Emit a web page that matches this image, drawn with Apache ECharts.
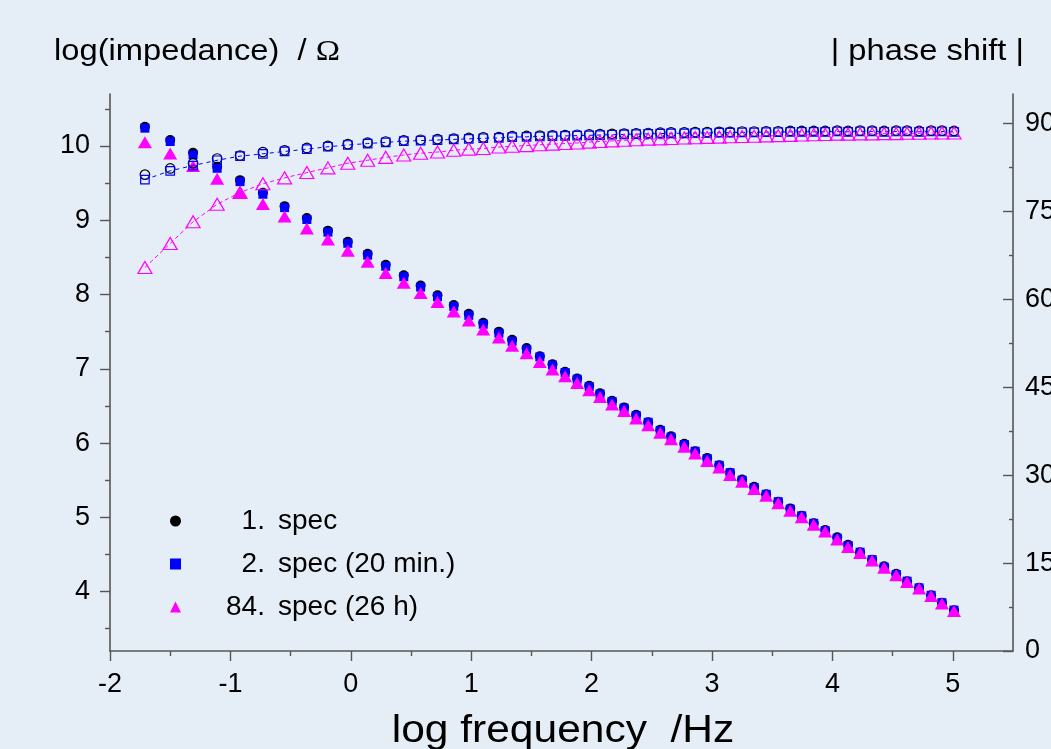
<!DOCTYPE html>
<html>
<head>
<meta charset="utf-8">
<title>Impedance spectra</title>
<script src="https://cdn.jsdelivr.net/npm/echarts@6/dist/echarts.min.js"></script>
<style>
  html, body { margin: 0; padding: 0; background: #e5edf6; }
  #chart { width: 1051px; height: 749px; }
</style>
</head>
<body>
<div id="chart"></div>
<script>
// log10 of the measurement frequency (Hz)
const logFreq = [-1.71, -1.50, -1.31, -1.11, -0.92, -0.73, -0.55, -0.365, -0.19, -0.025,
  0.14, 0.29, 0.44, 0.58, 0.72, 0.855, 0.98, 1.10, 1.23, 1.34,
  1.46, 1.57, 1.675, 1.78, 1.88, 1.98, 2.07, 2.17, 2.27, 2.37,
  2.47, 2.57, 2.66, 2.77, 2.86, 2.96, 3.06, 3.15, 3.25, 3.35,
  3.45, 3.55, 3.65, 3.745, 3.845, 3.94, 4.04, 4.13, 4.23, 4.33,
  4.43, 4.53, 4.62, 4.72, 4.82, 4.91, 5.01];

// log |Z| / Ohm
const impSpec1 = [10.26, 10.08, 9.91, 9.72, 9.54, 9.37, 9.19, 9.03, 8.86, 8.71,
  8.55, 8.40, 8.26, 8.12, 7.99, 7.86, 7.74, 7.62, 7.50, 7.39,
  7.28, 7.17, 7.06, 6.96, 6.87, 6.77, 6.67, 6.57, 6.48, 6.38,
  6.28, 6.18, 6.09, 5.99, 5.89, 5.80, 5.70, 5.60, 5.51, 5.41,
  5.31, 5.21, 5.12, 5.02, 4.92, 4.83, 4.73, 4.63, 4.53, 4.43,
  4.34, 4.24, 4.14, 4.05, 3.95, 3.85, 3.75];
const impSpec2 = [10.24, 10.06, 9.88, 9.70, 9.52, 9.35, 9.17, 9.01, 8.84, 8.69,
  8.53, 8.38, 8.24, 8.10, 7.97, 7.84, 7.72, 7.60, 7.48, 7.37,
  7.26, 7.16, 7.05, 6.95, 6.86, 6.76, 6.66, 6.56, 6.47, 6.37,
  6.28, 6.17, 6.08, 5.98, 5.89, 5.79, 5.70, 5.60, 5.50, 5.40,
  5.31, 5.21, 5.11, 5.02, 4.92, 4.82, 4.72, 4.62, 4.53, 4.43,
  4.33, 4.23, 4.14, 4.05, 3.95, 3.85, 3.75];
const impSpec84 = [10.05, 9.90, 9.73, 9.56, 9.38, 9.22, 9.05, 8.89, 8.74, 8.59,
  8.44, 8.29, 8.16, 8.02, 7.90, 7.77, 7.65, 7.53, 7.42, 7.31,
  7.21, 7.09, 6.99, 6.90, 6.81, 6.71, 6.62, 6.52, 6.43, 6.33,
  6.24, 6.14, 6.05, 5.95, 5.86, 5.76, 5.67, 5.57, 5.48, 5.38,
  5.29, 5.19, 5.09, 5.00, 4.90, 4.81, 4.70, 4.60, 4.52, 4.42,
  4.32, 4.22, 4.13, 4.04, 3.94, 3.84, 3.74];

// |phase shift| in degrees
const phaseSpec1 = [81.25, 82.3, 83.2, 84.0, 84.5, 85.1, 85.4, 85.8, 86.15, 86.45,
  86.7, 86.9, 87.1, 87.2, 87.3, 87.4, 87.5, 87.6, 87.65, 87.8,
  87.85, 87.9, 87.95, 88.0, 88.05, 88.1, 88.15, 88.2, 88.25, 88.3,
  88.35, 88.4, 88.45, 88.45, 88.5, 88.5, 88.55, 88.55, 88.6, 88.6,
  88.65, 88.65, 88.7, 88.7, 88.7, 88.7, 88.75, 88.7, 88.75, 88.75,
  88.7, 88.75, 88.75, 88.7, 88.75, 88.75, 88.7];
const phaseSpec2 = [80.4, 81.9, 82.8, 83.7, 84.4, 84.8, 85.2, 85.6, 86.0, 86.3,
  86.55, 86.75, 86.95, 87.05, 87.15, 87.25, 87.35, 87.45, 87.5, 87.65,
  87.7, 87.75, 87.8, 87.85, 87.9, 87.95, 88.0, 88.05, 88.1, 88.15,
  88.2, 88.25, 88.3, 88.3, 88.35, 88.35, 88.4, 88.4, 88.45, 88.45,
  88.5, 88.5, 88.55, 88.55, 88.55, 88.55, 88.6, 88.55, 88.6, 88.6,
  88.55, 88.6, 88.6, 88.55, 88.6, 88.6, 88.55];
const phaseSpec84 = [65.4, 69.5, 73.2, 76.2, 78.2, 79.7, 80.7, 81.6, 82.4, 83.2,
  83.7, 84.2, 84.6, 84.9, 85.1, 85.4, 85.6, 85.7, 85.95, 86.1,
  86.2, 86.35, 86.45, 86.55, 86.65, 86.8, 86.9, 87.0, 87.1, 87.2,
  87.3, 87.35, 87.4, 87.5, 87.55, 87.6, 87.65, 87.7, 87.75, 87.8,
  87.85, 87.9, 87.95, 88.0, 88.05, 88.1, 88.15, 88.15, 88.2, 88.2,
  88.25, 88.25, 88.3, 88.3, 88.35, 88.35, 88.35];

const seriesNames = ['1. spec', '2. spec (20 min.)', '84. spec (26 h)'];

// axis ticks
const xMajorTicks = [-2, -1, 0, 1, 2, 3, 4, 5];
const xMinorTicks = [-1.5, -0.5, 0.5, 1.5, 2.5, 3.5, 4.5];
const impMajorTicks = [4, 5, 6, 7, 8, 9, 10];
const impMinorTicks = [3.5, 4.5, 5.5, 6.5, 7.5, 8.5, 9.5, 10.5];
const phaseMajorTicks = [0, 15, 30, 45, 60, 75, 90];
const phaseMinorTicks = [7.5, 22.5, 37.5, 52.5, 67.5, 82.5];

const FONT = '"Liberation Sans", Arial, Helvetica, sans-serif';
const AXIS_COLOR = '#555';
const BLACK = '#000000';
const BLUE = '#0000ff';
const MAGENTA = '#ff00ff';
const TEXT_STRETCH = 1.09;

function pairs(ys) {
  return logFreq.map((x, i) => [x, ys[i]]);
}

const axisLine = { show: true, onZero: false, lineStyle: { color: AXIS_COLOR, width: 1.6 } };
const hiddenLine = { show: false, onZero: false };
const tickLine = { color: AXIS_COLOR, width: 1.4 };
const labelStyle = { color: '#000', fontFamily: FONT, fontSize: 27 };

const chart = echarts.init(document.getElementById('chart'), null, { renderer: 'canvas' });

const option = {
  animation: false,
  backgroundColor: '#e5edf6',
  grid: { left: 110, right: 38, top: 94, bottom: 98, containLabel: false, outerBoundsMode: 'none' },
  xAxis: [
    {
      type: 'value', min: -2, max: 5.5, position: 'bottom',
      axisLine: axisLine,
      axisTick: { show: true, inside: false, length: 10, lineStyle: tickLine, customValues: xMajorTicks },
      axisLabel: Object.assign({ margin: 20, customValues: xMajorTicks }, labelStyle),
      splitLine: { show: false }
    },
    {
      type: 'value', min: -2, max: 5.5, position: 'bottom',
      axisLine: hiddenLine,
      axisTick: { show: true, inside: false, length: 5, lineStyle: tickLine, customValues: xMinorTicks },
      axisLabel: { show: false },
      splitLine: { show: false }
    }
  ],
  yAxis: [
    {
      type: 'value', min: 3.2, max: 10.7, position: 'left',
      axisLine: axisLine,
      axisTick: { show: true, inside: false, length: 10, lineStyle: tickLine, customValues: impMajorTicks },
      axisLabel: Object.assign({ margin: 20, customValues: impMajorTicks }, labelStyle),
      splitLine: { show: false }
    },
    {
      type: 'value', min: 3.2, max: 10.7, position: 'left',
      axisLine: hiddenLine,
      axisTick: { show: true, inside: false, length: 5, lineStyle: tickLine, customValues: impMinorTicks },
      axisLabel: { show: false },
      splitLine: { show: false }
    },
    {
      type: 'value', min: 0, max: 95, position: 'right',
      axisLine: axisLine,
      axisTick: { show: true, inside: true, length: 10, lineStyle: tickLine, customValues: phaseMajorTicks },
      axisLabel: Object.assign({ margin: 12, customValues: phaseMajorTicks }, labelStyle),
      splitLine: { show: false }
    },
    {
      type: 'value', min: 0, max: 95, position: 'right',
      axisLine: hiddenLine,
      axisTick: { show: true, inside: true, length: 4, lineStyle: tickLine, customValues: phaseMinorTicks },
      axisLabel: { show: false },
      splitLine: { show: false }
    }
  ],
  legend: {
    orient: 'vertical',
    left: 165, top: 502,
    padding: 5,
    itemWidth: 11, itemHeight: 11,
    itemGap: 15,
    selectedMode: false,
    data: [
      { name: seriesNames[0], icon: 'circle', itemStyle: { color: BLACK, borderWidth: 0, opacity: 1 } },
      { name: seriesNames[1], icon: 'rect', itemStyle: { color: BLUE, borderWidth: 0, opacity: 1 } },
      { name: seriesNames[2], icon: 'triangle', itemStyle: { color: MAGENTA, borderWidth: 0, opacity: 1 } }
    ],
    // numbers are padded with figure spaces so the "spec" words line up
    formatter: function (name) {
      const cut = name.indexOf(' ');
      let num = name.slice(0, cut);
      if (num.length < 3) num = '\u2007' + num;
      return '{g| }{n|' + num + '}{s|' + name.slice(cut + 1) + '}';
    },
    textStyle: {
      color: '#000', fontFamily: FONT, fontSize: 28, lineHeight: 28,
      rich: {
        g: { width: 40, fontFamily: FONT, fontSize: 28 },
        n: { width: 52, fontFamily: FONT, fontSize: 28, color: '#000' },
        s: { fontFamily: FONT, fontSize: 28, color: '#000' }
      }
    }
  },
  graphic: [
    {
      type: 'text', x: 54, y: 52, scaleX: TEXT_STRETCH,
      style: {
        text: 'log(impedance)  / {o|Ω}',
        fill: '#000',
        font: '30px "Liberation Sans", Arial, sans-serif',
        align: 'left', verticalAlign: 'middle',
        rich: { o: { fontFamily: '"Liberation Serif", "Times New Roman", serif', fontSize: 30, fill: '#000' } }
      }
    },
    {
      type: 'text', x: 1024, y: 52, scaleX: TEXT_STRETCH,
      style: {
        text: '| phase shift |', fill: '#000',
        font: '30px "Liberation Sans", Arial, sans-serif',
        align: 'right', verticalAlign: 'middle'
      }
    },
    {
      type: 'text', x: 563, y: 731, scaleX: TEXT_STRETCH,
      style: {
        text: 'log frequency  /Hz', fill: '#000',
        font: '39px "Liberation Sans", Arial, sans-serif',
        align: 'center', verticalAlign: 'middle'
      }
    }
  ],
  series: [
    // |Z| spectra, filled markers
    {
      name: seriesNames[0], type: 'scatter', xAxisIndex: 0, yAxisIndex: 0,
      data: pairs(impSpec1), symbol: 'circle', symbolSize: 10,
      itemStyle: { color: BLACK, opacity: 1 }, emphasis: { disabled: true }
    },
    {
      name: seriesNames[1], type: 'scatter', xAxisIndex: 0, yAxisIndex: 0,
      data: pairs(impSpec2), symbol: 'rect', symbolSize: 9,
      itemStyle: { color: BLUE, opacity: 1 }, emphasis: { disabled: true }
    },
    {
      name: seriesNames[2], type: 'scatter', xAxisIndex: 0, yAxisIndex: 0,
      data: pairs(impSpec84), symbol: 'triangle', symbolSize: [14, 12],
      itemStyle: { color: MAGENTA, opacity: 1 }, emphasis: { disabled: true }
    },
    // phase spectra, open markers
    {
      name: seriesNames[0], type: 'scatter', xAxisIndex: 0, yAxisIndex: 2,
      data: pairs(phaseSpec1), symbol: 'circle', symbolSize: 9.5,
      itemStyle: { color: 'rgba(0,0,0,0)', borderColor: BLACK, borderWidth: 1.2, opacity: 1 },
      emphasis: { disabled: true }
    },
    {
      name: seriesNames[1], type: 'line', xAxisIndex: 0, yAxisIndex: 2,
      data: pairs(phaseSpec2), symbol: 'rect', symbolSize: 8.5, showSymbol: true, showAllSymbol: true,
      itemStyle: { color: 'rgba(0,0,0,0)', borderColor: BLUE, borderWidth: 1.2, opacity: 1 },
      lineStyle: { color: BLUE, width: 1, type: [4, 4] },
      emphasis: { disabled: true }
    },
    {
      name: seriesNames[2], type: 'line', xAxisIndex: 0, yAxisIndex: 2,
      data: pairs(phaseSpec84), symbol: 'triangle', symbolSize: [14, 12], showSymbol: true, showAllSymbol: true,
      itemStyle: { color: 'rgba(0,0,0,0)', borderColor: MAGENTA, borderWidth: 1.2, opacity: 1 },
      lineStyle: { color: MAGENTA, width: 1, type: [4, 3] },
      emphasis: { disabled: true }
    }
  ]
};

chart.setOption(option);
</script>
</body>
</html>
